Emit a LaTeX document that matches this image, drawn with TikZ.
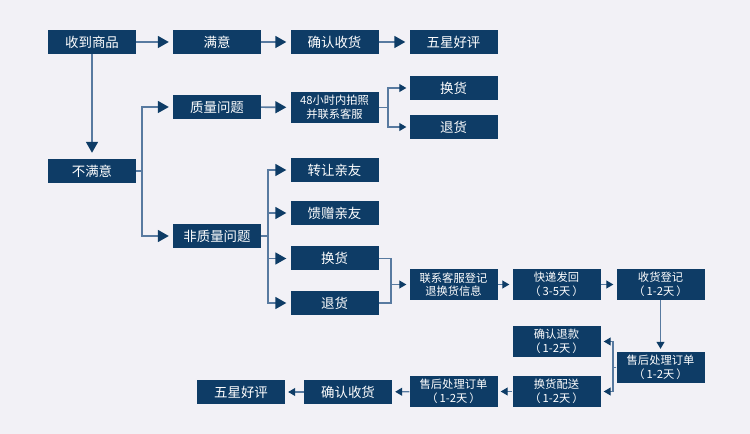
\documentclass[tikz,border=0pt]{standalone}
\usepackage{fontspec}
\setmainfont{Noto Sans CJK SC}
\usetikzlibrary{arrows.meta, positioning, calc}
\definecolor{ffNavy}{RGB}{14,60,102}
\definecolor{ffLine}{RGB}{88,122,160}
\definecolor{ffBack}{RGB}{242,241,246}
\newcommand{\pgap}{\hspace{2bp}}

\begin{document}
\begin{tikzpicture}[x=1bp, y=-1bp,
    box/.style={fill=ffNavy, text=white, minimum width=88bp, minimum height=24bp, inner sep=0pt, font=\fontsize{13.5}{15}\selectfont},
    boxtwo/.style={box, minimum height=31bp, align=center, font=\fontsize{11.3}{13.6}\selectfont},
    big/.style={draw=ffLine, line width=1.6bp, -{Triangle[length=11bp, width=12bp, color=ffNavy]}, shorten >=4bp},
    small/.style={draw=ffLine, line width=1.1bp, -{Triangle[length=7bp, width=8bp, color=ffNavy]}, shorten >=3bp},
    plain/.style={draw=ffLine, line width=1.1bp}]
    % page: 750 x 434, y runs downwards
    \fill[ffBack] (0,0) rectangle (750,434);
    \useasboundingbox (0,0) rectangle (750,434);

    % top row
    \node[box] (shouhuo) at (92,42) {收到商品};
    \node[box] (manyi) at (217,42) {满意};
    \node[box] (querenTop) at (334.5,42) {确认收货};
    \node[box] (wuxingTop) at (453.5,42) {五星好评};
    \draw[big] (shouhuo) -- (manyi);
    \draw[big] (manyi) -- (querenTop);
    \draw[big] (querenTop) -- (wuxingTop);

    % not satisfied
    \node[box] (bumanyi) at (92,171) {不满意};
    \draw[big, shorten >=6bp] (shouhuo) -- (bumanyi);
    \node[box] (zhiliang) at (217,107) {质量问题};
    \node[box] (feizhiliang) at (217,236) {非质量问题};
    \coordinate (forkA) at (142,0);
    \draw[big] (bumanyi.east) -- (bumanyi.east -| forkA) |- (zhiliang.west);
    \draw[big] (bumanyi.east) -- (bumanyi.east -| forkA) |- (feizhiliang.west);

    % quality problem
    \node[boxtwo] (paizhao) at (334.5,107.5) {48小时内拍照\\并联系客服};
    \draw[big] (zhiliang) -- (paizhao);
    \node[box] (huanhuoA) at (453.5,88) {换货};
    \node[box] (tuihuoA) at (453.5,127) {退货};
    \coordinate (forkB) at (388,0);
    \draw[small] (paizhao.east) -- (paizhao.east -| forkB) |- (huanhuoA.west);
    \draw[small] (paizhao.east) -- (paizhao.east -| forkB) |- (tuihuoA.west);

    % no quality problem
    \node[box] (zhuanrang) at (334.5,170) {转让亲友};
    \node[box] (kuizeng) at (334.5,213) {馈赠亲友};
    \node[box] (huanhuoB) at (334.5,258.5) {换货};
    \node[box] (tuihuoB) at (334.5,303) {退货};
    \coordinate (forkC) at (268,0);
    \foreach \n in {zhuanrang, kuizeng, huanhuoB, tuihuoB} {
        \draw[big] (feizhiliang.east) -- (feizhiliang.east -| forkC) |- (\n.west);
    }

    % return / exchange chain
    \node[boxtwo] (lianxi) at (453.5,284.5) {联系客服登记\\退换货信息};
    \node[boxtwo] (kuaidi) at (556.5,284.5) {快递发回\\（\pgap3-5天\pgap）};
    \node[boxtwo] (dengji) at (660.5,284.5) {收货登记\\（\pgap1-2天\pgap）};
    \coordinate (mergeA) at (391,0);
    \draw[plain] (huanhuoB.east) -- (huanhuoB.east -| mergeA) -- (tuihuoB.east -| mergeA) -- (tuihuoB.east);
    \draw[small] (lianxi.west -| mergeA) -- (lianxi.west);
    \draw[small] (lianxi) -- (kuaidi);
    \draw[small] (kuaidi) -- (dengji);

    \node[boxtwo] (shouhouR) at (660.5,367.5) {售后处理订单\\（\pgap1-2天\pgap）};
    \draw[small] (dengji) -- (shouhouR);
    \node[boxtwo] (tuikuan) at (556.5,341.5) {确认退款\\（\pgap1-2天\pgap）};
    \node[boxtwo] (peisong) at (556.5,391.5) {换货配送\\（\pgap1-2天\pgap）};
    \coordinate (forkD) at (613,0);
    \draw[small] (shouhouR.west) -- (shouhouR.west -| forkD) |- (tuikuan.east);
    \draw[small] (shouhouR.west) -- (shouhouR.west -| forkD) |- (peisong.east);

    % bottom row, right to left
    \node[boxtwo] (shouhouL) at (453.5,391.5) {售后处理订单\\（\pgap1-2天\pgap）};
    \node[box] (querenBot) at (348,392) {确认收货};
    \node[box] (wuxingBot) at (241,392) {五星好评};
    \draw[small] (peisong) -- (shouhouL);
    \draw[small] (shouhouL) -- (querenBot);
    \draw[small] (querenBot) -- (wuxingBot);
\end{tikzpicture}
\end{document}
